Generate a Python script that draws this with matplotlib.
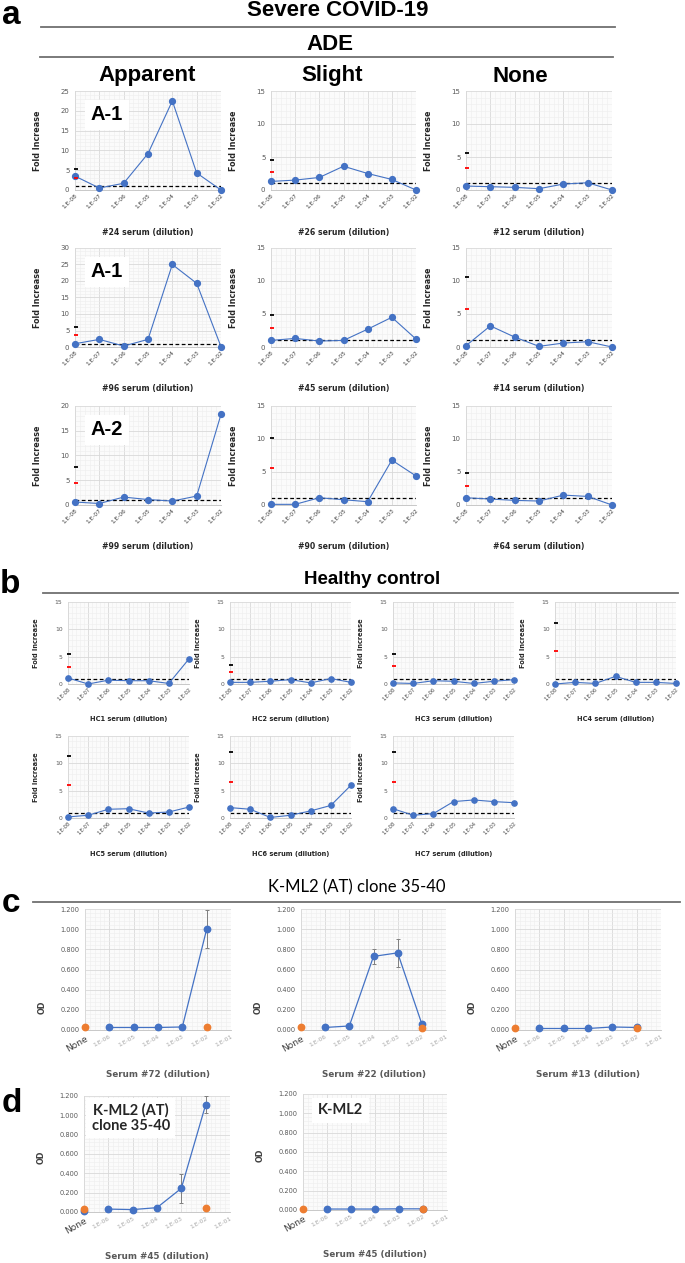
import matplotlib

matplotlib.use("Agg")
import matplotlib.pyplot as plt
from matplotlib.lines import Line2D
from matplotlib.ticker import AutoMinorLocator, FormatStrFormatter, MultipleLocator

W, H = 685, 1263

# ---- data ----
DILUTIONS = ["1.E-08", "1.E-07", "1.E-06", "1.E-05", "1.E-04", "1.E-03", "1.E-02"]

SEVERE_SERA = ["#24", "#26", "#12", "#96", "#45", "#14", "#99", "#90", "#64"]
SEVERE_FOLD = [
    [3.5, 0.5, 1.7, 9.2, 22.5, 4.3, 0.0],
    [1.3, 1.5, 1.9, 3.6, 2.5, 1.6, 0.0],
    [0.6, 0.5, 0.4, 0.2, 0.9, 1.1, 0.0],
    [1.0, 2.3, 0.3, 2.3, 25.0, 19.3, 0.1],
    [1.0, 1.3, 0.9, 1.0, 2.7, 4.5, 1.2],
    [0.2, 3.2, 1.5, 0.1, 0.6, 0.8, 0.0],
    [0.6, 0.3, 1.6, 1.1, 0.8, 1.8, 18.3],
    [0.1, 0.1, 1.1, 0.8, 0.5, 6.8, 4.4],
    [1.1, 0.9, 0.7, 0.6, 1.5, 1.3, 0.0],
]
SEVERE_BLACK = [5.2, 4.5, 5.6, 6.2, 4.8, 10.6, 7.7, 10.1, 4.9]
SEVERE_RED = [3.0, 2.8, 3.3, 3.7, 2.9, 5.8, 4.4, 5.6, 2.9]
SEVERE_YMAX = [25, 15, 15, 30, 15, 15, 20, 15, 15]
SEVERE_TAGS = ["A-1", None, None, "A-1", None, None, "A-2", None, None]
ADE_GROUPS = ["Apparent", "Slight", "None"]

HC_SERA = ["HC1", "HC2", "HC3", "HC4", "HC5", "HC6", "HC7"]
HC_FOLD = [
    [1.1, 0.0, 0.7, 0.6, 0.6, 0.1, 4.6],
    [0.3, 0.3, 0.5, 0.8, 0.2, 1.0, 0.3],
    [0.2, 0.1, 0.6, 0.5, 0.1, 0.5, 0.8],
    [0.0, 0.3, 0.1, 1.4, 0.3, 0.3, 0.1],
    [0.2, 0.5, 1.6, 1.7, 0.9, 1.1, 2.0],
    [1.9, 1.6, 0.1, 0.5, 1.3, 2.3, 6.0],
    [1.7, 0.5, 0.8, 3.0, 3.3, 3.0, 2.8],
]
HC_BLACK = [5.5, 3.5, 5.5, 11.2, 11.3, 12.1, 12.1]
HC_RED = [3.2, 2.2, 3.3, 6.1, 6.1, 6.5, 6.5]

OD_DILUTIONS = ["None", "1.E-06", "1.E-05", "1.E-04", "1.E-03", "1.E-02", "1.E-01"]
OD_SERA = ["#72", "#22", "#13", "#45", "#45"]
OD_BLUE = [
    [0.025, 0.025, 0.025, 0.030, 1.000],
    [0.025, 0.040, 0.730, 0.765, 0.060],
    [0.015, 0.015, 0.015, 0.030, 0.025],
    [0.030, 0.025, 0.045, 0.245, 1.110],
    [0.010, 0.010, 0.010, 0.012, 0.012],
]
OD_BLUE_ERR = [
    [0.005, 0.005, 0.005, 0.005, 0.190],
    [0.005, 0.010, 0.075, 0.140, 0.015],
    [0.005, 0.005, 0.005, 0.005, 0.005],
    [0.005, 0.005, 0.010, 0.150, 0.090],
    [0.003, 0.003, 0.003, 0.003, 0.003],
]
OD_BLUE_NONE = [None, None, None, 0.015, None]
OD_ORANGE = [
    [0.025, 0.025],
    [0.025, 0.020],
    [0.020, 0.020],
    [0.035, 0.045],
    [0.015, 0.010],
]
OD_TAGS = [None, None, None, "K-ML2 (AT)\nclone 35-40", "K-ML2"]

BLUE = "#4472C4"
ORANGE = "#ED7D31"
GRID_MAJOR = "#d9d9d9"
GRID_MINOR = "#eeeeee"
HEAD_FONT = "Liberation Sans"

plt.rcParams["font.family"] = ["DejaVu Sans"]


def add_ax(fig, left, top, right, bottom):
    return fig.add_axes(
        [left / W, 1 - bottom / H, (right - left) / W, (bottom - top) / H]
    )


def style_grid(ax):
    ax.set_facecolor("#fbfbfb")
    ax.grid(True, which="major", color=GRID_MAJOR, lw=0.6)
    ax.grid(True, which="minor", color=GRID_MINOR, lw=0.4)
    ax.set_axisbelow(True)
    for side in ("top", "right"):
        ax.spines[side].set_visible(False)
    ax.spines["left"].set_color(GRID_MAJOR)
    ax.spines["bottom"].set_color("#bfbfbf")
    ax.spines["left"].set_linewidth(0.6)
    ax.spines["bottom"].set_linewidth(0.6)


def fold_chart(fig, box, vals, black, red, ymax, xlabel, xlabel_y, small, tag=None):
    left, top, right, bottom = box
    ax = add_ax(fig, left, top, right, bottom)
    x = list(range(len(DILUTIONS)))
    ax.axhline(1.0, color="black", lw=0.9, ls=(0, (3, 2)), zorder=2)
    ax.plot(x, vals, color=BLUE, lw=0.8, marker="o", ms=4.2 if not small else 3.8,
            mfc=BLUE, mec=BLUE, clip_on=False, zorder=4)
    ax.plot([0.03], [black], marker="_", ms=3, mew=1.3, color="black",
            clip_on=False, zorder=5)
    ax.plot([0.03], [red], marker="_", ms=3, mew=1.3, color="red",
            clip_on=False, zorder=5)
    ax.set_xlim(0, len(DILUTIONS) - 1)
    ax.set_ylim(0, ymax)
    ax.xaxis.set_major_locator(MultipleLocator(1))
    ax.xaxis.set_minor_locator(AutoMinorLocator(5))
    ax.yaxis.set_major_locator(MultipleLocator(5))
    ax.yaxis.set_minor_locator(AutoMinorLocator(5))
    ax.set_xticks(x)
    ax.set_xticklabels(DILUTIONS, rotation=45, ha="right", rotation_mode="anchor",
                       fontsize=4.2 if not small else 3.6, color="#404040")
    ax.tick_params(axis="both", which="both", length=0)
    ax.tick_params(axis="x", pad=2)
    ax.tick_params(axis="y", labelsize=5 if not small else 4.3, labelcolor="#595959", pad=4)
    style_grid(ax)
    ax.set_ylabel("Fold Increase", fontsize=5.8 if not small else 4.8, fontweight="bold",
                  color="#262626")
    ax.yaxis.set_label_coords(-(33 if not small else 29) / (right - left), 0.5)
    fig.text((left + right) / 2 / W, 1 - xlabel_y / H, xlabel, ha="center", va="center",
             fontsize=5.6 if not small else 4.8, fontweight="bold", color="#262626")
    if tag:
        ax.text(32 / (right - left), 1 - 24 / (bottom - top), tag, transform=ax.transAxes,
                ha="center", va="center", fontsize=14.5, fontweight="bold",
                family=HEAD_FONT, zorder=6,
                bbox=dict(facecolor="white", edgecolor="none", pad=4))
    return ax


def od_chart(fig, box, i, xlabel_y, ylabel_y):
    left, top, right, bottom = box
    ax = add_ax(fig, left, top, right, bottom)
    xb = list(range(1, 6))
    ax.errorbar(xb, OD_BLUE[i], yerr=OD_BLUE_ERR[i], color=BLUE, lw=0.9, marker="o",
                ms=4.6, ecolor="#7f7f7f", elinewidth=0.7, capsize=1.5, capthick=0.7,
                clip_on=False, zorder=4)
    if OD_BLUE_NONE[i] is not None:
        ax.plot([0], [OD_BLUE_NONE[i]], "o", color=BLUE, ms=4.6, clip_on=False, zorder=4)
    ax.plot([0, 5], OD_ORANGE[i], "o", color=ORANGE, ms=4.6, clip_on=False, zorder=5)
    ax.set_xlim(0, 6)
    ax.set_ylim(0, 1.2)
    ax.xaxis.set_major_locator(MultipleLocator(1))
    ax.xaxis.set_minor_locator(AutoMinorLocator(5))
    ax.yaxis.set_major_locator(MultipleLocator(0.2))
    ax.yaxis.set_minor_locator(AutoMinorLocator(5))
    ax.yaxis.set_major_formatter(FormatStrFormatter("%.3f"))
    ax.set_xticks(range(len(OD_DILUTIONS)))
    ax.set_xticklabels(OD_DILUTIONS, rotation=30, ha="right", rotation_mode="anchor",
                       fontsize=4.3, color="#a6a6a6")
    first = ax.get_xticklabels()[0]
    first.set_fontsize(6.5)
    first.set_color("#404040")
    ax.tick_params(axis="both", which="both", length=0)
    ax.tick_params(axis="x", pad=3)
    ax.tick_params(axis="y", labelsize=4.8, labelcolor="#595959", pad=4)
    style_grid(ax)
    fig.text((left - 43) / W, 1 - ylabel_y / H, "OD", rotation=90, ha="center",
             va="center", fontsize=5.8, fontweight="bold", color="#404040")
    fig.text((left + right) / 2 / W, 1 - xlabel_y / H, f"Serum {OD_SERA[i]} (dilution)",
             ha="center", va="center", fontsize=6.3, fontweight="bold", color="#595959")
    if OD_TAGS[i]:
        fx = 0.32 if "\n" in OD_TAGS[i] else 0.26
        fy = 0.81 if "\n" in OD_TAGS[i] else 0.86
        ax.text(fx, fy, OD_TAGS[i], transform=ax.transAxes, ha="center", va="center",
                fontsize=10.5, fontweight="bold", family="Lato", color="#262626",
                linespacing=1.05, zorder=6,
                bbox=dict(facecolor="white", edgecolor="none", pad=4))
    return ax


def hline(fig, x0, x1, y, color="#6f6f6f", lw=1.3):
    fig.add_artist(Line2D([x0 / W, x1 / W], [1 - y / H, 1 - y / H],
                          transform=fig.transFigure, color=color, lw=lw))


def head(fig, x, y, text, size=16, weight="bold", family=HEAD_FONT, ha="center"):
    fig.text(x / W, 1 - y / H, text, ha=ha, va="center", fontsize=size,
             fontweight=weight, family=family, color="black")


fig = plt.figure(figsize=(W / 100, H / 100), dpi=100)
fig.patch.set_facecolor("white")

# ---- panel a ----
head(fig, 2, 16, "a", size=24, ha="left")
head(fig, 338, 11, "Severe COVID-19")
hline(fig, 41, 615, 27)
head(fig, 330, 44, "ADE")
hline(fig, 40, 613, 57)
for name, cx in zip(ADE_GROUPS, [147, 332, 520]):
    head(fig, cx, 76, name)

cols_a = [(75, 221), (271, 416), (466, 612)]
rows_a = [(91, 190), (248, 347), (406, 505)]
labels_a = [232, 389, 547]
for k in range(9):
    r, c = divmod(k, 3)
    fold_chart(fig, (cols_a[c][0], rows_a[r][0], cols_a[c][1], rows_a[r][1]),
               SEVERE_FOLD[k], SEVERE_BLACK[k], SEVERE_RED[k], SEVERE_YMAX[k],
               f"{SEVERE_SERA[k]} serum (dilution)", labels_a[r], False, SEVERE_TAGS[k])

# ---- panel b ----
head(fig, 0, 584, "b", size=24, ha="left")
head(fig, 372, 579, "Healthy control", size=13.5)
hline(fig, 43, 678, 593)
cols_b = [(68, 189), (230, 351), (393, 514), (555, 676)]
rows_b = [(602, 684), (736, 818)]
labels_b = [719, 854]
for k in range(7):
    r, c = divmod(k, 4)
    fold_chart(fig, (cols_b[c][0], rows_b[r][0], cols_b[c][1], rows_b[r][1]),
               HC_FOLD[k], HC_BLACK[k], HC_RED[k], 15,
               f"{HC_SERA[k]} serum (dilution)", labels_b[r], True)

# ---- panel c ----
head(fig, 2, 903, "c", size=24, ha="left")
head(fig, 357, 887, "K-ML2 (AT) clone 35-40", size=12, weight="normal", family="Lato")
hline(fig, 33, 680, 902)
cols_c = [(85, 231), (301, 446), (515, 661)]
for k in range(3):
    od_chart(fig, (cols_c[k][0], 909, cols_c[k][1], 1030), k, 1074, 1007)

# ---- panel d ----
head(fig, 2, 1104, "d", size=24, ha="left")
od_chart(fig, (84, 1096, 230, 1212), 3, 1256, 1157)
od_chart(fig, (303, 1094, 447, 1210), 4, 1254, 1155)

fig.savefig("out.png", dpi=100, facecolor="white")
